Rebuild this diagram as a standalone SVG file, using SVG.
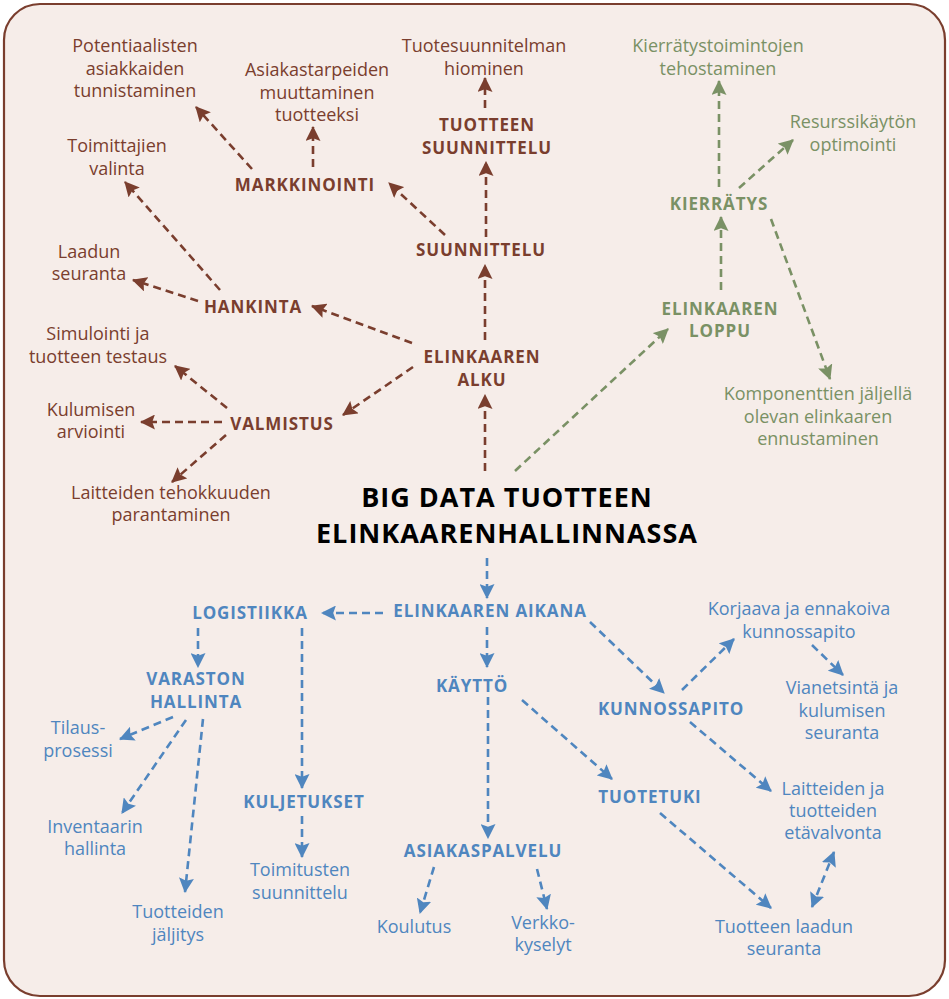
<svg xmlns="http://www.w3.org/2000/svg" width="949" height="999" viewBox="0 0 949 999">
  <style>
    text { font-family: "Open Sans", "Noto Sans", "Liberation Sans", sans-serif; text-anchor: middle; }
    .reg { font-size: 18px; font-weight: 400; }
    .bold { font-size: 17px; font-weight: 700; letter-spacing: 0.9px; }
    .title { font-size: 27px; font-weight: 700; letter-spacing: 1px; fill: #000; }
    .br { fill: #7a3e2e; }
    .gr { fill: #7a9165; }
    .bl { fill: #4f86bf; }
    .cbr, .cgr, .cbl { fill: none; stroke-width: 2.6; stroke-dasharray: 8 5; }
    .cbr { stroke: #7a3e2e; marker-end: url(#ah-br); }
    .cgr { stroke: #7a9165; marker-end: url(#ah-gr); }
    .cbl { stroke: #4f86bf; marker-end: url(#ah-bl); }
  </style>
  <defs>
    <marker id="ah-br" viewBox="0 0 14 14" refX="13" refY="7" markerWidth="15" markerHeight="15" markerUnits="userSpaceOnUse" orient="auto">
      <path d="M0,0 L14,7 L0,14 L2.5,7 Z" fill="#7a3e2e"/>
    </marker>
    <marker id="ah-gr" viewBox="0 0 14 14" refX="13" refY="7" markerWidth="15" markerHeight="15" markerUnits="userSpaceOnUse" orient="auto">
      <path d="M0,0 L14,7 L0,14 L2.5,7 Z" fill="#7a9165"/>
    </marker>
    <marker id="ah-bl" viewBox="0 0 14 14" refX="13" refY="7" markerWidth="15" markerHeight="15" markerUnits="userSpaceOnUse" orient="auto-start-reverse">
      <path d="M0,0 L14,7 L0,14 L2.5,7 Z" fill="#4f86bf"/>
    </marker>
  </defs>

  <!-- frame -->
  <rect x="4" y="4" width="941" height="992" rx="36" ry="36" fill="#f6ede9" stroke="#7a3e2e" stroke-width="2.2"/>

  <!-- connectors -->
  <g id="connectors">
    <!-- start of life cycle (brown) -->
    <line class="cbr" x1="485" y1="471" x2="485" y2="395"/>
    <line class="cbr" x1="485" y1="340" x2="485" y2="265"/>
    <line class="cbr" x1="486" y1="237" x2="486" y2="162"/>
    <line class="cbr" x1="485" y1="108" x2="485" y2="78"/>
    <line class="cbr" x1="445" y1="235" x2="389" y2="183"/>
    <line class="cbr" x1="313" y1="167" x2="313" y2="127"/>
    <line class="cbr" x1="252" y1="169" x2="196" y2="107"/>
    <line class="cbr" x1="412" y1="343" x2="312" y2="306"/>
    <line class="cbr" x1="413" y1="367" x2="343" y2="415"/>
    <line class="cbr" x1="220" y1="290" x2="125" y2="182"/>
    <line class="cbr" x1="198" y1="301" x2="133" y2="280"/>
    <line class="cbr" x1="227" y1="408" x2="175" y2="366"/>
    <line class="cbr" x1="222" y1="422" x2="141" y2="422"/>
    <line class="cbr" x1="226" y1="435" x2="172" y2="482"/>
    <!-- end of life cycle (green) -->
    <line class="cgr" x1="515" y1="471" x2="668" y2="329"/>
    <line class="cgr" x1="721" y1="290" x2="721" y2="217"/>
    <line class="cgr" x1="719" y1="187" x2="719" y2="81"/>
    <line class="cgr" x1="739" y1="188" x2="793" y2="140"/>
    <line class="cgr" x1="771" y1="219" x2="830" y2="379"/>
    <!-- during life cycle (blue) -->
    <line class="cbl" x1="487" y1="558" x2="487" y2="598"/>
    <line class="cbl" x1="383" y1="613" x2="322" y2="613"/>
    <line class="cbl" x1="198" y1="628" x2="198" y2="667"/>
    <line class="cbl" x1="302" y1="628" x2="302" y2="788"/>
    <line class="cbl" x1="173" y1="717" x2="120" y2="739"/>
    <line class="cbl" x1="186" y1="720" x2="122" y2="813"/>
    <line class="cbl" x1="203" y1="719" x2="185" y2="892"/>
    <line class="cbl" x1="302" y1="816" x2="302" y2="857"/>
    <line class="cbl" x1="487" y1="627" x2="487" y2="667"/>
    <line class="cbl" x1="590" y1="622" x2="664" y2="693"/>
    <line class="cbl" x1="488" y1="697" x2="488" y2="838"/>
    <line class="cbl" x1="522" y1="700" x2="612" y2="779"/>
    <line class="cbl" x1="682" y1="690" x2="734" y2="639"/>
    <line class="cbl" x1="812" y1="645" x2="843" y2="675"/>
    <line class="cbl" x1="690" y1="722" x2="771" y2="791"/>
    <line class="cbl" x1="660" y1="813" x2="771" y2="908"/>
    <line class="cbl" x1="812" y1="907" x2="834" y2="852" marker-start="url(#ah-bl)"/>
    <line class="cbl" x1="434" y1="867" x2="420" y2="913"/>
    <line class="cbl" x1="537" y1="869" x2="547" y2="909"/>
  </g>

  <!-- central title -->
  <g id="big-data">
    <text class="title" x="507" y="507">BIG DATA TUOTTEEN</text>
    <text class="title" x="507" y="543">ELINKAARENHALLINNASSA</text>
  </g>

  <!-- start of life cycle -->
  <g id="elinkaaren-alku"><text class="bold br" x="482" y="363">ELINKAAREN<tspan x="482" dy="23">ALKU</tspan></text></g>
  <g id="suunnittelu"><text class="bold br" x="481" y="256">SUUNNITTELU</text></g>
  <g id="tuotteen-suunnittelu"><text class="bold br" x="487" y="131">TUOTTEEN<tspan x="487" dy="23">SUUNNITTELU</tspan></text></g>
  <g id="tuotesuunnitelma"><text class="reg br" x="484" y="52">Tuotesuunnitelman<tspan x="484" dy="23">hiominen</tspan></text></g>
  <g id="markkinointi"><text class="bold br" x="305" y="191">MARKKINOINTI</text></g>
  <g id="asiakastarpeet"><text class="reg br" x="317" y="76">Asiakastarpeiden<tspan x="317" dy="22.5">muuttaminen</tspan><tspan x="317" dy="22.5">tuotteeksi</tspan></text></g>
  <g id="potentiaaliset"><text class="reg br" x="135" y="52">Potentiaalisten<tspan x="135" dy="22.5">asiakkaiden</tspan><tspan x="135" dy="22.5">tunnistaminen</tspan></text></g>
  <g id="hankinta"><text class="bold br" x="253" y="313">HANKINTA</text></g>
  <g id="toimittajat"><text class="reg br" x="117" y="152">Toimittajien<tspan x="117" dy="23">valinta</tspan></text></g>
  <g id="laadun-seuranta"><text class="reg br" x="89" y="258">Laadun<tspan x="89" dy="22">seuranta</tspan></text></g>
  <g id="valmistus"><text class="bold br" x="282" y="430">VALMISTUS</text></g>
  <g id="simulointi"><text class="reg br" x="98" y="340">Simulointi ja<tspan x="98" dy="23">tuotteen testaus</tspan></text></g>
  <g id="kulumisen-arviointi"><text class="reg br" x="91" y="416">Kulumisen<tspan x="91" dy="22">arviointi</tspan></text></g>
  <g id="tehokkuus"><text class="reg br" x="171" y="499">Laitteiden tehokkuuden<tspan x="171" dy="22">parantaminen</tspan></text></g>

  <!-- end of life cycle -->
  <g id="elinkaaren-loppu"><text class="bold gr" x="720" y="315">ELINKAAREN<tspan x="720" dy="22">LOPPU</tspan></text></g>
  <g id="kierratys"><text class="bold gr" x="719" y="210">KIERRÄTYS</text></g>
  <g id="kierratystoiminnot"><text class="reg gr" x="718" y="52">Kierrätystoimintojen<tspan x="718" dy="23">tehostaminen</tspan></text></g>
  <g id="resurssikaytto"><text class="reg gr" x="853" y="128">Resurssikäytön<tspan x="853" dy="23">optimointi</tspan></text></g>
  <g id="komponentit"><text class="reg gr" x="818" y="400">Komponenttien jäljellä<tspan x="818" dy="22.5">olevan elinkaaren</tspan><tspan x="818" dy="22.5">ennustaminen</tspan></text></g>

  <!-- during life cycle -->
  <g id="elinkaaren-aikana"><text class="bold bl" x="490" y="617">ELINKAAREN AIKANA</text></g>
  <g id="logistiikka"><text class="bold bl" x="250" y="619">LOGISTIIKKA</text></g>
  <g id="varaston-hallinta"><text class="bold bl" x="196" y="685">VARASTON<tspan x="196" dy="23">HALLINTA</tspan></text></g>
  <g id="tilausprosessi"><text class="reg bl" x="78" y="734">Tilaus-<tspan x="78" dy="23">prosessi</tspan></text></g>
  <g id="inventaario"><text class="reg bl" x="95" y="833">Inventaarin<tspan x="95" dy="22">hallinta</tspan></text></g>
  <g id="jaljitys"><text class="reg bl" x="178" y="918">Tuotteiden<tspan x="178" dy="23">jäljitys</tspan></text></g>
  <g id="kuljetukset"><text class="bold bl" x="304" y="808">KULJETUKSET</text></g>
  <g id="toimitukset"><text class="reg bl" x="300" y="876">Toimitusten<tspan x="300" dy="23">suunnittelu</tspan></text></g>
  <g id="kaytto"><text class="bold bl" x="472" y="692">KÄYTTÖ</text></g>
  <g id="asiakaspalvelu"><text class="bold bl" x="483" y="857">ASIAKASPALVELU</text></g>
  <g id="koulutus"><text class="reg bl" x="414" y="933">Koulutus</text></g>
  <g id="verkkokyselyt"><text class="reg bl" x="543" y="929">Verkko-<tspan x="543" dy="22">kyselyt</tspan></text></g>
  <g id="tuotetuki"><text class="bold bl" x="650" y="803">TUOTETUKI</text></g>
  <g id="kunnossapito"><text class="bold bl" x="671" y="715">KUNNOSSAPITO</text></g>
  <g id="korjaava"><text class="reg bl" x="799" y="615">Korjaava ja ennakoiva<tspan x="799" dy="23">kunnossapito</tspan></text></g>
  <g id="vianetsinta"><text class="reg bl" x="842" y="694">Vianetsintä ja<tspan x="842" dy="22.5">kulumisen</tspan><tspan x="842" dy="22.5">seuranta</tspan></text></g>
  <g id="etavalvonta"><text class="reg bl" x="833" y="795">Laitteiden ja<tspan x="833" dy="22">tuotteiden</tspan><tspan x="833" dy="22">etävalvonta</tspan></text></g>
  <g id="laadun-seuranta-2"><text class="reg bl" x="784" y="933">Tuotteen laadun<tspan x="784" dy="22">seuranta</tspan></text></g>
</svg>
